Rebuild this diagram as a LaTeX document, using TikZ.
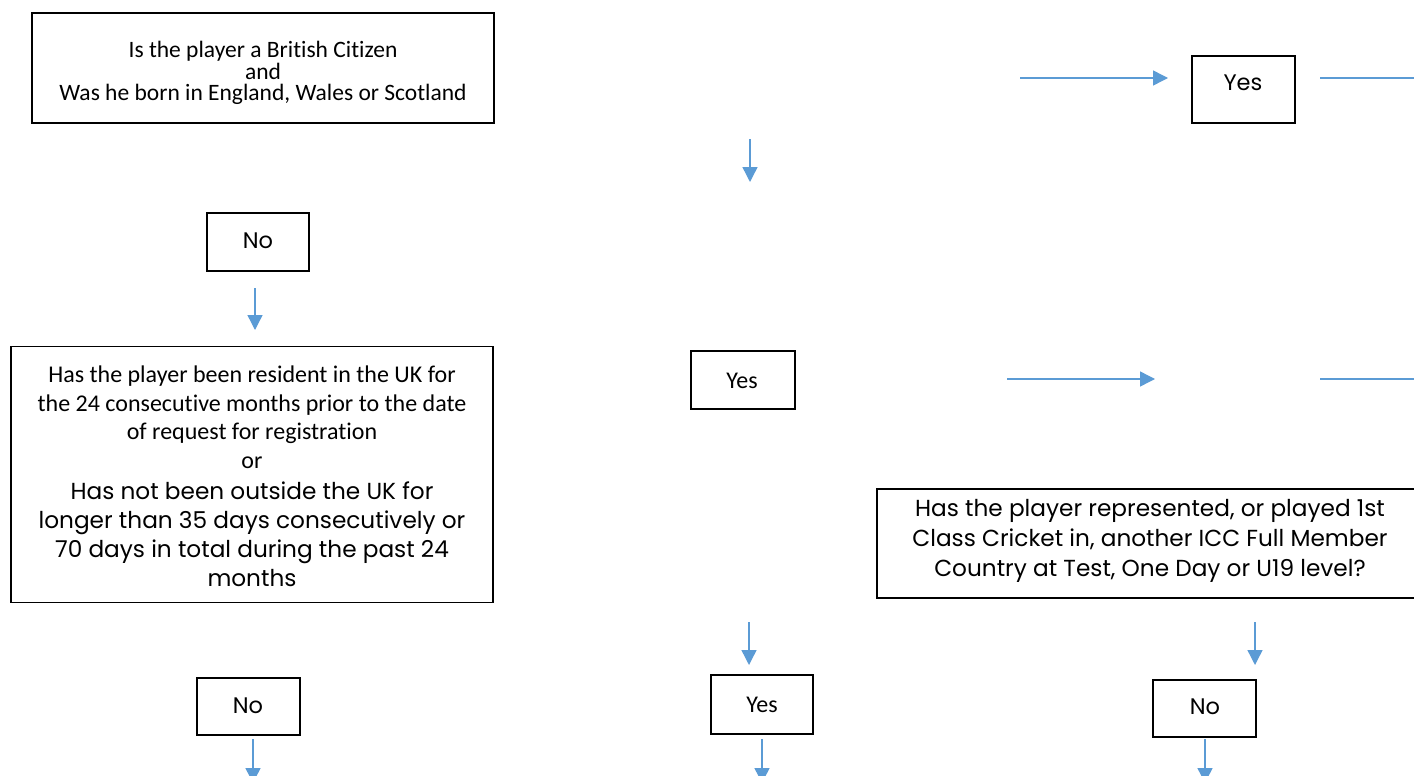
\documentclass[tikz,border=0pt]{standalone}
\usepackage{fontspec}
\setmainfont[Ligatures={NoCommon}]{Carlito}
\newfontfamily\cg{Poppins}
\usetikzlibrary{arrows.meta}
\definecolor{arr}{HTML}{5B9BD5}
\begin{document}
\begin{tikzpicture}[x=1pt,y=-1pt,
  box/.style={draw=black, line width=1.8pt, inner sep=0pt},
  txt/.style={align=center, inner sep=0pt},
  cal/.style={font=\fontsize{24}{28.5}\selectfont},
  cgf/.style={font=\cg\fontsize{22.5}{28.5}\selectfont},
  con/.style={draw=arr, line width=1.4pt},
  arrw/.style={con, -{Triangle[length=15pt,width=15pt]}},
]
\useasboundingbox (0,0) rectangle (1414,776);
\fill[white] (0,0) rectangle (1414,776);
\clip (0,0) rectangle (1414,776);

% boxes
\node[box, minimum width=462pt, minimum height=110pt] (b1) at (263,68) {};
\node[txt, font=\fontsize{23.5}{21.5}\selectfont] (t1) at (263,73)
  {Is the player a British Citizen\\and\\Was he born in England, Wales or Scotland};

\node[box, minimum width=103pt, minimum height=67pt] (yes1) at (1243.5,89.5) {};
\node[txt, cgf] (ty1) at (1243,83) {Yes};

\node[box, minimum width=102pt, minimum height=58pt] (no1) at (258,242) {};
\node[txt, cgf] (tn1) at (258,241) {No};

\node[box, minimum width=482pt, minimum height=256pt] (b2) at (252,474.5) {};
\node[txt, cal] (t2a) at (252,417)
  {Has the player been resident in the UK for\\
   the 24 consecutive months prior to the date\\
   of request for registration\\
   or};
\node[txt, font=\cg\fontsize{23.2}{29}\selectfont] (t2b) at (252,534)
  {Has not been outside the UK for\\
   longer than 35 days consecutively or\\
   70 days in total during the past 24\\
   months};

\node[box, minimum width=104pt, minimum height=58pt] (yes2) at (743,380) {};
\node[txt, cal] (ty2) at (742,381) {Yes};

\node[box, minimum width=546pt, minimum height=109pt] (b3) at (1150,543.5) {};
\node[txt, font=\cg\fontsize{23.2}{30}\selectfont] (t3) at (1150,541)
  {Has the player represented, or played 1st\\
   Class Cricket in, another ICC Full Member\\
   Country at Test, One Day or U19 level?};

\node[box, minimum width=103pt, minimum height=57pt] (no2) at (248.5,706.5) {};
\node[txt, cgf] (tn2) at (248,706) {No};

\node[box, minimum width=102pt, minimum height=59pt] (yes3) at (762,704.5) {};
\node[txt, cal] (ty3) at (762,705) {Yes};

\node[box, minimum width=103pt, minimum height=57pt] (no3) at (1204.5,708.5) {};
\node[txt, cgf] (tn3) at (1205,707) {No};

% connector end points
\coordinate (a1s) at (1020,78);  \coordinate (a1e) at (1168,78);
\coordinate (l1s) at (1320,78);  \coordinate (l1e) at (1420,78);
\coordinate (a2s) at (750,139);  \coordinate (a2e) at (750,182);
\coordinate (a3s) at (255,288);  \coordinate (a3e) at (255,330);
\coordinate (a4s) at (1007,379); \coordinate (a4e) at (1155,379);
\coordinate (l2s) at (1320,379); \coordinate (l2e) at (1420,379);
\coordinate (a5s) at (749,622);  \coordinate (a5e) at (749,665);
\coordinate (a6s) at (1255,622); \coordinate (a6e) at (1255,665);
\coordinate (a7s) at (253,739);  \coordinate (a7e) at (253,783);
\coordinate (a8s) at (762,739);  \coordinate (a8e) at (762,783);
\coordinate (a9s) at (1205,739); \coordinate (a9e) at (1205,783);

\draw[arrw] (a1s) -- (a1e);
\draw[con]  (l1s) -- (l1e);
\draw[arrw] (a2s) -- (a2e);
\draw[arrw] (a3s) -- (a3e);
\draw[arrw] (a4s) -- (a4e);
\draw[con]  (l2s) -- (l2e);
\draw[arrw] (a5s) -- (a5e);
\draw[arrw] (a6s) -- (a6e);
\draw[arrw] (a7s) -- (a7e);
\draw[arrw] (a8s) -- (a8e);
\draw[arrw] (a9s) -- (a9e);
\end{tikzpicture}
\end{document}
